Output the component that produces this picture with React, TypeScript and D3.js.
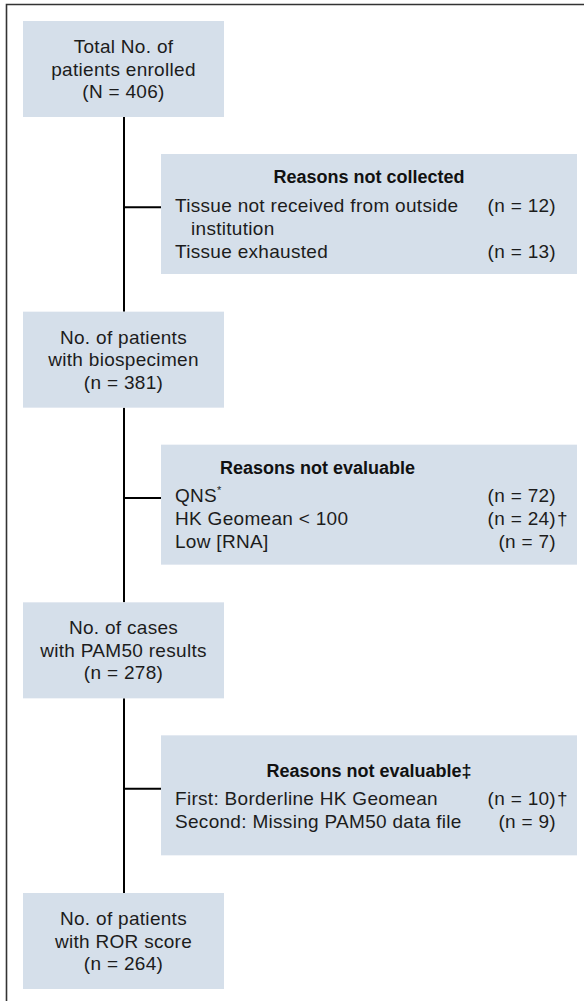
import React from "react";
import * as d3 from "d3";

// main flow boxes, top to bottom
const stageLines: string[][] = [
  ["Total No. of", "patients enrolled", "(N = 406)"],
  ["No. of patients", "with biospecimen", "(n = 381)"],
  ["No. of cases", "with PAM50 results", "(n = 278)"],
  ["No. of patients", "with ROR score", "(n = 264)"],
];

// exclusion boxes between stages
const exclusionTitles = ["Reasons not collected", "Reasons not evaluable", "Reasons not evaluable‡"];
const exclusionReasons: string[][][] = [
  [["Tissue not received from outside", "institution"], ["Tissue exhausted"]],
  [["QNS"], ["HK Geomean < 100"], ["Low [RNA]"]],
  [["First: Borderline HK Geomean"], ["Second: Missing PAM50 data file"]],
];
const exclusionCounts: number[][] = [
  [12, 13],
  [72, 24, 7],
  [10, 9],
];
const exclusionMarks: string[][] = [
  ["", ""],
  ["*", "†", ""],
  ["†", ""],
];

const W = 584;
const H = 1001;
const FONT = "'Liberation Sans', Arial, sans-serif";
const FILL = "#d5dfea";
const INK = "#1c1c1c";

export default function App() {
  const y = d3.scalePoint<number>().domain(d3.range(stageLines.length)).range([21, 893]);
  const boxX = 23, boxW = 201, boxH = 96;
  const sideX = 161, sideW = 416, sideH = 120;
  const lineX = 124;
  const lh = 22.5;
  const fs = 19;
  const ls = 0.3;

  return (
    <svg width={W} height={H} style={{ position: "absolute", left: 0, top: 0 }} fontFamily={FONT}>
      <rect width={W} height={H} fill="#fff" />
      {/* frame */}
      <path d={`M6.5,${H} V4.5 H${W}`} fill="none" stroke="#333" strokeWidth={1.6} />

      {/* connector spine */}
      {stageLines.slice(1).map((_, i) => (
        <line key={"v" + i} x1={lineX} x2={lineX} y1={y(i)! + boxH} y2={y(i + 1)!} stroke="#000" strokeWidth={2} />
      ))}

      {stageLines.map((lines, i) => {
        const top = y(i)!;
        const cy = top + boxH / 2;
        return (
          <g key={"s" + i}>
            <rect x={boxX} y={top} width={boxW} height={boxH} fill={FILL} />
            {lines.map((t, j) => (
              <text key={j} x={boxX + boxW / 2} y={cy + (j - 1) * lh} dy="0.35em" textAnchor="middle" fontSize={fs} letterSpacing={ls} fill={INK}>
                {t}
              </text>
            ))}
          </g>
        );
      })}

      {exclusionTitles.map((title, i) => {
        const top = y(i)! + 133;
        const rows = exclusionReasons[i];
        const headGap = i === 2 ? 35 : 23;
        const headY = top + headGap;
        const connY = y(i)! + (y(i + 1)! - y(i)! + boxH) / 2 - 7;
        let k = 0;
        return (
          <g key={"e" + i}>
            <line x1={lineX} x2={sideX} y1={connY} y2={connY} stroke="#000" strokeWidth={2} />
            <rect x={sideX} y={top} width={sideW} height={sideH} fill={FILL} />
            <text
              x={i === 1 ? 220 : sideX + sideW / 2}
              y={headY}
              dy="0.35em"
              textAnchor={i === 1 ? "start" : "middle"}
              fontSize={18}
              fontWeight="bold"
              fill="#111"
            >
              {title}
            </text>
            {rows.map((r, ri) => {
              const rowY = headY + 28 + k * 23;
              k += r.length;
              const mark = exclusionMarks[i][ri];
              return (
                <g key={ri}>
                  {r.map((t, li) => (
                    <text key={li} x={li === 0 ? 175 : 191} y={rowY + li * 23} dy="0.35em" fontSize={fs} letterSpacing={ls} fill={INK}>
                      {t}
                      {li === 0 && mark === "*" ? (
                        <tspan fontSize={11} dy="-0.8em">*</tspan>
                      ) : null}
                    </text>
                  ))}
                  <text x={556} y={rowY} dy="0.35em" textAnchor="end" fontSize={fs} letterSpacing={ls} fill={INK}>
                    {`(n = ${exclusionCounts[i][ri]})`}
                  </text>
                  {mark === "†" ? (
                    <text x={557} y={rowY} dy="0.35em" fontSize={fs} fill={INK}>†</text>
                  ) : null}
                </g>
              );
            })}
          </g>
        );
      })}
    </svg>
  );
}
